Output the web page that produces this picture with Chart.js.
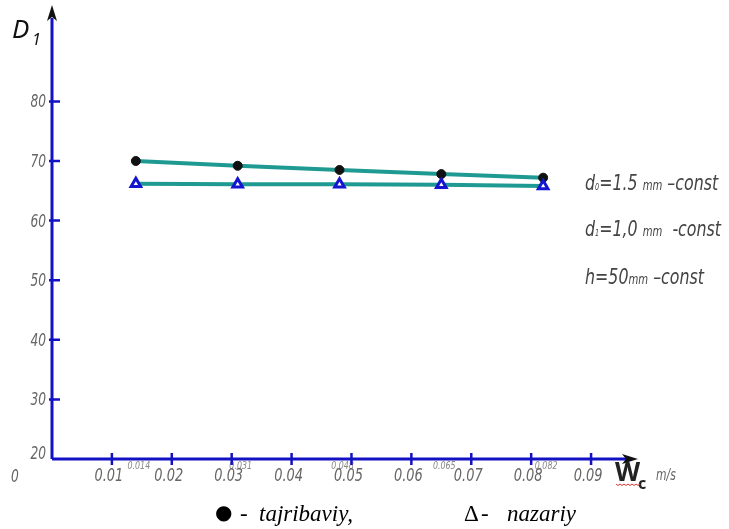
<!DOCTYPE html>
<html>
<head>
<meta charset="utf-8">
<script src="https://cdn.jsdelivr.net/npm/chart.js@4"></script>
<style>
  html, body { margin: 0; padding: 0; background: #fff; }
  #wrap { width: 729px; height: 529px; position: relative; }
</style>
</head>
<body>
<div id="wrap"><canvas id="myChart" width="729" height="529"></canvas></div>
<script>
// data
var xValues = [0.014, 0.031, 0.048, 0.065, 0.082];
var pointLabels = ['0.014', '0.031', '0.048', '0.065', '0.082'];
var expValues = [70.0, 69.2, 68.5, 67.8, 67.2];     // tajribaviy
var theoryValues = [66.2, 66.1, 66.1, 66.0, 65.8];  // nazariy
var xTicks = [0.01, 0.02, 0.03, 0.04, 0.05, 0.06, 0.07, 0.08, 0.09];
var xTickLabels = ['0.01', '0.02', '0.03', '0.04', '0.05', '0.06', '0.07', '0.08', '0.09'];
var yTicks = [20, 30, 40, 50, 60, 70, 80];
var yTickLabels = ['20', '30', '40', '50', '60', '70', '80'];

var axisBlue = '#1212c4';
var teal = '#1f9a92';
var gost = '"DejaVu Sans", sans-serif';

function pairs(ys) {
  return xValues.map(function(x, i) { return { x: x, y: ys[i] }; });
}

// narrow slanted text, a bit like the drafting font of the original
function narrow(c, text, x, y, size, align, sx) {
  sx = sx || 0.72;
  c.save();
  c.font = 'italic ' + size + 'px ' + gost;
  var w = c.measureText(text).width * sx;
  if (align === 'right') x -= w;
  if (align === 'center') x -= w / 2;
  c.translate(x, y);
  c.scale(sx, 1);
  c.textAlign = 'left';
  c.fillText(text, 0, 0);
  c.restore();
  return w;
}

// draws the blue axes, ticks and all the texts around the plot
var axesPlugin = {
  id: 'axesPlugin',
  beforeDatasetsDraw: function(chart) {
    var c = chart.ctx;
    var xs = chart.scales.x, ys = chart.scales.y;
    var x0 = xs.getPixelForValue(0);
    var y0 = ys.getPixelForValue(20);
    c.save();

    // small value labels under the axis, drawn first so the ticks sit over them
    c.fillStyle = '#888';
    xValues.forEach(function(v, i) {
      narrow(c, pointLabels[i], xs.getPixelForValue(v) + 3, 469, 11, 'center');
    });

    c.strokeStyle = axisBlue;
    c.lineWidth = 3;
    c.beginPath();
    c.moveTo(x0, y0);
    c.lineTo(x0, 18);
    c.moveTo(x0, y0);
    c.lineTo(626, y0);
    c.stroke();

    // arrow heads
    c.fillStyle = '#111';
    c.beginPath();
    c.moveTo(x0, 5);
    c.lineTo(x0 - 5, 21);
    c.lineTo(x0, 17);
    c.lineTo(x0 + 5, 21);
    c.closePath();
    c.fill();
    c.beginPath();
    c.moveTo(638, y0);
    c.lineTo(622, y0 - 5);
    c.lineTo(626, y0);
    c.lineTo(622, y0 + 5);
    c.closePath();
    c.fill();

    // y ticks
    c.lineWidth = 2.5;
    c.beginPath();
    yTicks.forEach(function(v) {
      if (v === 20) return;
      var py = ys.getPixelForValue(v);
      c.moveTo(x0 - 3, py);
      c.lineTo(x0 + 8, py);
    });
    // x ticks
    xTicks.forEach(function(v) {
      var px = xs.getPixelForValue(v);
      c.moveTo(px, y0 - 6);
      c.lineTo(px, y0 + 6);
    });
    c.stroke();

    // tick labels
    c.fillStyle = '#666';
    c.textBaseline = 'alphabetic';
    yTicks.forEach(function(v, i) {
      var py = ys.getPixelForValue(v);
      if (v === 20) py -= 6;
      narrow(c, yTickLabels[i], x0 - 6, py + 6, 17, 'right');
    });
    narrow(c, '0', 15, 482, 17, 'center');
    xTicks.forEach(function(v, i) {
      narrow(c, xTickLabels[i], xs.getPixelForValue(v) - 3, 481, 18, 'center');
    });

    // axis titles
    c.fillStyle = '#111';
    c.textAlign = 'left';
    c.font = 'italic 26px "Noto Sans", sans-serif';
    c.fillText('D', 12, 38);
    c.font = 'italic 16px "Noto Sans", sans-serif';
    c.fillText('1', 32, 45);

    c.font = 'bold 26px "Noto Sans", sans-serif';
    c.fillStyle = '#222';
    c.fillText('W', 615, 481);
    c.font = 'bold 16px "Noto Sans", sans-serif';
    c.fillText('c', 638, 489);
    // spell-check squiggle under W
    c.strokeStyle = '#d33';
    c.lineWidth = 1;
    c.beginPath();
    for (var k = 0; k <= 24; k += 2) {
      c.lineTo(616 + k, 484 + (k % 4 === 0 ? 0 : 1.5));
    }
    c.stroke();
    c.fillStyle = '#666';
    narrow(c, 'm/s', 656, 480, 15, 'left');

    // constants on the right
    function seg(parts, x, y) {
      parts.forEach(function(p) {
        x += narrow(c, p[0], x, y, p[1], 'left');
      });
    }
    c.fillStyle = '#444';
    seg([['d', 22], ['0', 9], ['=1.5 ', 22], ['mm', 14], [' \u2013const', 22]], 585, 190);
    seg([['d', 22], ['1', 9], ['=1,0 ', 22], ['mm', 14], ['  -const', 22]], 585, 236);
    seg([['h=50', 22], ['mm', 14], [' \u2013const', 22]], 585, 284);

    // legend line at the bottom
    c.fillStyle = '#000';
    c.font = '20px "DejaVu Sans", sans-serif';
    c.fillText('\u25CF', 215, 519);
    c.font = '23px "Liberation Serif", serif';
    c.fillText('-', 240, 521);
    c.fillText('\u0394', 464, 521);
    c.fillText('-', 481, 521);
    c.font = 'italic 23px "Liberation Serif", serif';
    c.fillText('tajribaviy,', 259, 521);
    c.fillText('nazariy', 507, 521);
    c.restore();
  }
};

var ctx = document.getElementById('myChart').getContext('2d');
var myChart = new Chart(ctx, {
  type: 'line',
  data: {
    datasets: [{
      label: 'nazariy',
      data: pairs(theoryValues),
      borderColor: teal,
      borderWidth: 4,
      pointStyle: 'triangle',
      pointRadius: 5.5,
      pointBorderWidth: 3,
      pointBorderColor: '#1515d0',
      pointBackgroundColor: '#fff',
      tension: 0
    }, {
      label: 'tajribaviy',
      data: pairs(expValues),
      borderColor: teal,
      borderWidth: 4,
      pointStyle: 'circle',
      pointRadius: 4.5,
      pointBorderWidth: 1,
      pointBorderColor: '#111',
      pointBackgroundColor: '#111',
      tension: 0
    }]
  },
  options: {
    responsive: false,
    animation: false,
    layout: { padding: { left: 52, right: 99, top: 12, bottom: 70 } },
    scales: {
      x: { type: 'linear', min: 0, max: 0.0965, display: false },
      y: { type: 'linear', min: 20, max: 95, display: false }
    },
    plugins: {
      legend: { display: false },
      tooltip: { enabled: false }
    }
  },
  plugins: [axesPlugin]
});
</script>
</body>
</html>
